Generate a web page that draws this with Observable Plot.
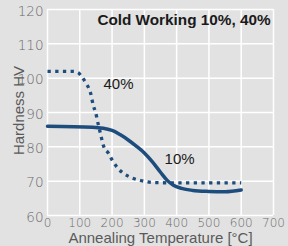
<!DOCTYPE html>
<html>
<head>
<meta charset="utf-8">
<script src="https://cdn.jsdelivr.net/npm/d3@7"></script>
<script src="https://cdn.jsdelivr.net/npm/@observablehq/plot@0.6"></script>
<style>
  html, body { margin: 0; padding: 0; background: #e2e2e2; }
  #chart svg { display: block; }
</style>
</head>
<body>
<div id="chart"></div>
<script>
// Cold working 10% (solid)
const temps10 = [0, 140, 200, 226, 250, 275, 300, 325, 350, 370, 390, 415, 450, 500, 550, 600];
const hv10    = [86.0, 85.7, 84.8, 83.5, 82.0, 80.2, 78.2, 75.6, 72.6, 70.3, 68.8, 67.9, 67.3, 67.0, 66.9, 67.4];
// Cold working 40% (dotted)
const temps40 = [0, 80, 95, 108, 120, 133, 142, 149, 158, 164, 173, 189, 201, 216, 232, 251, 288, 328, 400, 600];
const hv40    = [102, 102, 101.6, 100.2, 98.4, 95.8, 92.0, 90.0, 86.2, 83.9, 80.4, 78.1, 76.0, 74.0, 72.5, 71.4, 70.2, 69.6, 69.5, 69.5];

const xTicks = [0, 100, 200, 300, 400, 500, 600, 700];
const yTicks = [60, 70, 80, 90, 100, 110, 120];

const seriesLabels = ["10%", "40%"];
const labelTemps = [409, 220];
const labelHV = [75.1, 96.7];

const title = "Cold Working 10%, 40%";
const xTitle = "Annealing Temperature [°C]";
const yTitle = "Hardness HV";

const d10 = temps10.map((t, i) => ({t, hv: hv10[i]}));
const d40 = temps40.map((t, i) => ({t, hv: hv40[i]}));
const labels = seriesLabels.map((s, i) => ({s, t: labelTemps[i], hv: labelHV[i]}));

const lineColor = "#1d4d7d";
const tickFont = "'DejaVu Sans', sans-serif";
const sans = "'Liberation Sans', Arial, sans-serif";

const chart = Plot.plot({
  width: 288,
  height: 246,
  marginLeft: 47,
  marginRight: 15,
  marginTop: 9,
  marginBottom: 31,
  style: {background: "#e2e2e2", fontFamily: tickFont, overflow: "visible"},
  x: {domain: [0, 700]},
  y: {domain: [60, 120]},
  marks: [
    Plot.gridX(xTicks, {stroke: "#ffffff", strokeOpacity: 1, strokeWidth: 1.5}),
    Plot.gridY(yTicks, {stroke: "#ffffff", strokeOpacity: 1, strokeWidth: 1.5}),
    Plot.axisX(xTicks, {tickSize: 0, tickPadding: 3, fontSize: 12, fill: "#6a6a6a", fontWeight: 200, label: null}),
    Plot.axisY(yTicks, {tickSize: 0, tickPadding: 4, fontSize: 13.5, fill: "#6a6a6a", fontWeight: 200, dy: 2, label: null}),
    Plot.line(d40, {x: "t", y: "hv", stroke: lineColor, strokeWidth: 3.3, strokeDasharray: "3.3,4.4", strokeLinecap: "butt", curve: "monotone-x"}),
    Plot.line(d10, {x: "t", y: "hv", stroke: lineColor, strokeWidth: 3.5, curve: "monotone-x"}),
    Plot.text(labels, {x: "t", y: "hv", text: "s", fontSize: 15, fill: "#1a1a1a", lineAnchor: "bottom", fontFamily: sans}),
    Plot.text([title], {frameAnchor: "top-right", dx: -3, dy: 5, lineAnchor: "top", textAnchor: "end", fontSize: 15.3, fontWeight: "bold", fill: "#1a1a1a", fontFamily: sans}),
    Plot.text([xTitle], {frameAnchor: "bottom", dy: 27, lineAnchor: "bottom", fontSize: 15, fill: "#5a5a5a", fontFamily: sans}),
    Plot.text([yTitle], {frameAnchor: "left", dx: -24, dy: -2, rotate: -90, textAnchor: "middle", lineAnchor: "bottom", fontSize: 15, fill: "#5a5a5a", fontFamily: sans})
  ]
});
document.getElementById("chart").appendChild(chart);
</script>
</body>
</html>
